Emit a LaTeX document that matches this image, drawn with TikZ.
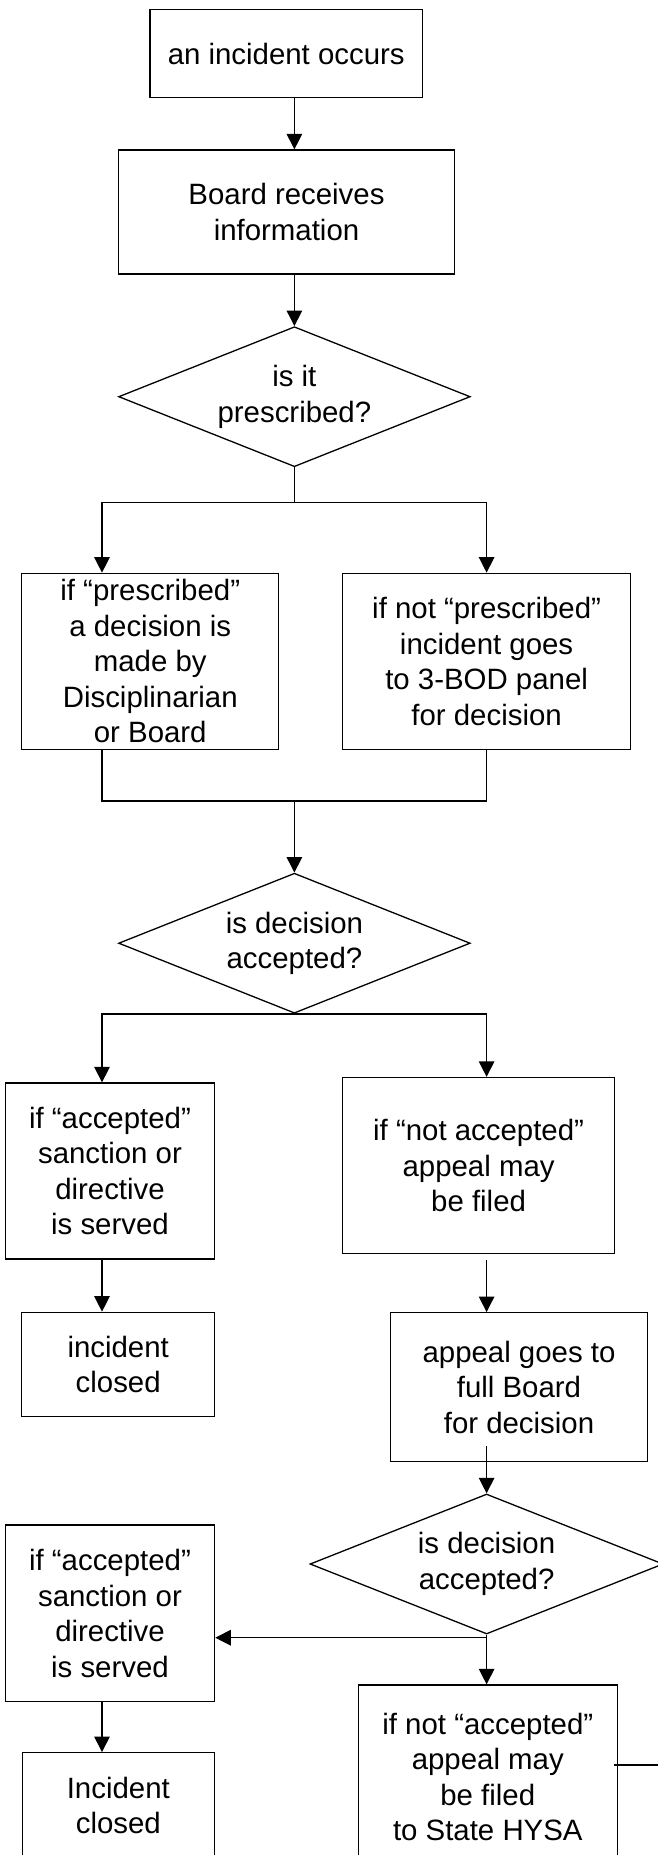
\documentclass[tikz,border=0pt]{standalone}
\usepackage{fontspec}
\setmainfont{Liberation Sans}
\usetikzlibrary{positioning,shapes.geometric,arrows.meta}

\begin{document}
\begin{tikzpicture}[x=1pt,y=-1pt,line width=1.3pt,
box/.style={draw,rectangle,inner sep=0pt,align=center,font=\fontsize{29.4}{35.5}\selectfont},
decision/.style={box,diamond,inner sep=-35pt,minimum width=351.6,minimum height=140},
arr/.style={-{Triangle[length=15.5pt,width=15.5pt]}}]
\useasboundingbox (0,0) rectangle (657,1855);
% columns and junctions
\coordinate (lcol) at (102,0);
\coordinate (rcol) at (486.6,0);
\coordinate (split1) at (294.4,502.5);
\coordinate (merge) at (294.4,801);
\coordinate (split3) at (486.6,1637.7);
\coordinate (exit) at (672,1765);

\node (occur) [box,minimum width=272.5,minimum height=88.4] at (286.25,53.5) {an incident occurs};
\node (recv) [box,minimum width=336.5,minimum height=124] at (286.5,212) {Board receives\\information};
\node (presq) [decision] at (294.4,396.7) {is it\\prescribed?};
\node (pres) [box,minimum width=256.9,minimum height=176] at (150.25,661.3)
    {if “prescribed”\\a decision is\\made by\\Disciplinarian\\or Board};
\node (notpres) [box,minimum width=288.4,minimum height=176] at (486.6,661.3)
    {if not “prescribed”\\incident goes\\to 3-BOD panel\\for decision};
\node (accq) [decision] at (294.4,943.2) {is decision\\accepted?};
\node (acc) [box,minimum width=209.2,minimum height=176] at (110,1171)
    {if “accepted”\\sanction or\\directive\\is served};
\node (notacc) [box,minimum width=272.4,minimum height=176] at (478.6,1165.5)
    {if “not accepted”\\appeal may\\be filed};
\node (closed) [box,minimum width=192.8,minimum height=104.4] at (118.2,1364.5) {incident\\closed};
\node (appeal) [box,minimum width=256.9,minimum height=149] at (519,1387.2)
    {appeal goes to\\full Board\\for decision};
\node (accq2) [decision,minimum width=353.2] at (486.6,1564) {is decision\\accepted?};
\node (acc2) [box,minimum width=209.2,minimum height=176.7] at (110,1613.3)
    {if “accepted”\\sanction or\\directive\\is served};
\node (closed2) [box,minimum width=192,minimum height=105.6] at (118.3,1805.5) {Incident\\closed};
\node (state) [box,minimum width=259,minimum height=184] at (487.8,1777)
    {if not “accepted”\\appeal may\\be filed\\to State HYSA};

\draw[arr] (occur.south -| presq.north) -- (recv.north -| presq.north);
\draw[arr] (recv.south -| presq.north) -- (presq.north);
\draw (presq.south) -- (split1);
\draw[arr] (split1) -| (pres.north -| lcol);
\draw[arr] (split1) -| (notpres.north);
\draw (pres.south -| lcol) |- (merge) -| (notpres.south);
\draw[arr] (merge) -- (accq.north);
\draw[arr] (accq.south) -| (acc.north -| lcol);
\draw[arr] (accq.south) -| (notacc.north -| rcol);
\draw[arr] (acc.south -| lcol) -- (closed.north -| lcol);
\draw[arr,shorten <=6pt] (notacc.south -| rcol) -- (appeal.north -| rcol);
\draw[arr,shorten <=-16pt] (appeal.south -| rcol) -- (accq2.north);
\draw (accq2.south) -- (split3);
\draw[arr] (split3) -- (acc2.east |- split3);
\draw[arr] (split3) -- (state.north -| split3);
\draw[arr] (acc2.south -| lcol) -- (closed2.north -| lcol);
\draw[shorten <=-4pt] (state.east |- exit) -- (exit);
\end{tikzpicture}
\end{document}
